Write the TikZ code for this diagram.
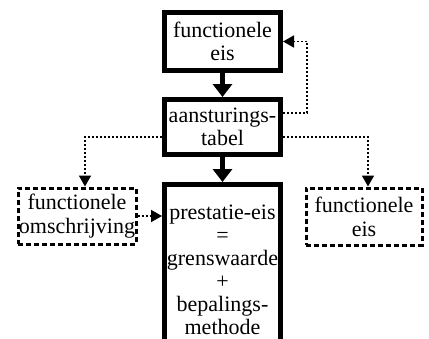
\documentclass[tikz,border=0pt]{standalone}
\usepackage{fontspec}
\setmainfont{Liberation Serif}
\usetikzlibrary{arrows.meta}
\begin{document}
\begin{tikzpicture}[x=1pt,y=-1pt,
  solidbox/.style={draw,line width=5pt,inner sep=0pt,align=center,minimum width=116pt,font=\fontsize{22}{23}\selectfont},
  dashbox/.style={draw,line width=3pt,dash pattern=on 5pt off 3pt,inner sep=0pt,align=center,font=\fontsize{22}{24}\selectfont},
  dotline/.style={line width=1.6pt,dash pattern=on 2pt off 2pt},
  dottip/.style={-{Triangle[length=11pt,width=12pt]}},
  bigarrow/.style={line width=4.5pt,-{Triangle[length=13pt,width=19pt]}}]
\useasboundingbox (0,0) rectangle (429,338);
\node[solidbox,minimum height=58pt] (fe) at (222.5,41.5) {functionele\\eis};
\node[solidbox,minimum height=55pt] (at) at (222.5,127) {aansturings-\\tabel};
\node[solidbox,minimum height=170pt] (pe) at (222.5,269.5) {prestatie-eis\\=\\grenswaarde\\+\\bepalings-\\methode};
\node[dashbox,minimum width=118pt,minimum height=56pt] (fo) at (77,216) {functionele\\omschrijving};
\node[dashbox,minimum width=116pt,minimum height=57pt] (fr) at (364,216.5) {functionele\\eis};
\coordinate (c1) at (307,113);
\draw[dotline,dottip] ([yshift=14pt]at.east) -- (c1) |- (fe.east);
\draw[dotline,dottip] ([yshift=-10pt]at.west) -| ([xshift=8pt]fo.north);
\draw[dotline,dottip] ([yshift=-10pt]at.east) -| ([xshift=4pt]fr.north);
\draw[dotline,dottip] (fo.east) -- (fo.east -| pe.west);
\draw[bigarrow] (fe.south) -- (at.north);
\draw[bigarrow] (at.south) -- (pe.north);
\end{tikzpicture}
\end{document}
